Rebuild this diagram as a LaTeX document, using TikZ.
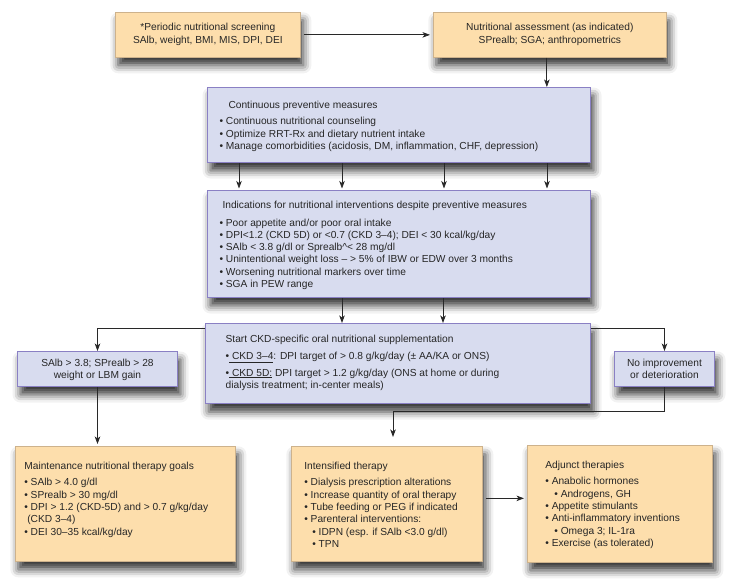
\documentclass[tikz,border=0pt]{standalone}
\usepackage{fontspec}
\setmainfont{Liberation Sans}
\usetikzlibrary{arrows.meta,shadows.blur}
\definecolor{pewpeach}{RGB}{253,222,172}
\definecolor{pewtan}{RGB}{205,178,140}
\definecolor{pewlilac}{RGB}{216,220,239}
\definecolor{pewpurple}{RGB}{138,128,196}
\definecolor{pewline}{RGB}{40,40,40}

% width, height, first baseline, left pad, text
\newcommand{\boxtext}[5]{\parbox[c][#2][t]{#1}{\raggedright\leftskip=#4\relax\rule{0pt}{#3}#5}}
% text with a rule set well below it
\newcommand{\lowline}[2]{\sbox0{#2}\rlap{\rule[-#1]{\wd0}{0.8pt}}\usebox0}

\begin{document}
\begin{tikzpicture}[x=1pt, y=-1pt,
    every node/.style={font=\fontsize{10.2}{12.3}\selectfont, text=black!85},
    peachbox/.style={draw=pewtan, fill=pewpeach, line width=0.7pt, inner sep=0pt, anchor=north west,
        blur shadow={shadow xshift=3pt, shadow yshift=-8pt, shadow blur radius=8pt, shadow opacity=80}},
    lilacbox/.style={peachbox, draw=pewpurple, fill=pewlilac, line width=1pt},
    arr/.style={draw=pewline, line width=0.75pt, -{Stealth[length=7.5pt,width=5.5pt,inset=2pt]}}]
    \useasboundingbox (0,0) rectangle (744,583);

    % Screening
    \node[peachbox] (screen) at (115,12) {\boxtext{185pt}{45pt}{18.5pt}{0pt}{\centering
        *Periodic nutritional screening\\
        SAlb, weight, BMI, MIS, DPI, DEI}};

    % Assessment
    \node[peachbox] (assess) at (433,12) {\boxtext{233pt}{45pt}{18.5pt}{0pt}{\centering
        Nutritional assessment (as indicated)\\
        SPrealb; SGA; anthropometrics}};

    % Preventive measures
    \node[lilacbox] (prevent) at (207,87) {\boxtext{383pt}{75pt}{21.5pt}{12pt}{%
        \hspace*{9pt}Continuous preventive measures\\[3.7pt]
        \textbullet\ Continuous nutritional counseling\\
        \textbullet\ Optimize RRT-Rx and dietary nutrient intake\\
        \textbullet\ Manage comorbidities (acidosis, DM, inflammation, CHF, depression)}};

    % Indications
    \node[lilacbox] (indic) at (207,190) {\boxtext{383pt}{107pt}{17.5pt}{12pt}{%
        \hspace*{3pt}Indications for nutritional interventions despite preventive measures\\[5.7pt]
        \textbullet\ Poor appetite and/or poor oral intake\\
        \textbullet\ DPI<1.2 (CKD 5D) or <0.7 (CKD 3–4); DEI < 30 kcal/kg/day\\
        \textbullet\ SAlb < 3.8 g/dl or Sprealb\textasciicircum< 28 mg/dl\\
        \textbullet\ Unintentional weight loss – > 5\% of IBW or EDW over 3 months\\
        \textbullet\ Worsening nutritional markers over time\\
        \textbullet\ SGA in PEW range}};

    % Supplementation
    \node[lilacbox, line width=1.3pt] (ckd) at (205,323) {\boxtext{385pt}{80pt}{18.5pt}{20pt}{%
        Start CKD-specific oral nutritional supplementation\\[4.7pt]
        \textbullet\lowline{4pt}{\ CKD 3–4}: DPI target of > 0.8 g/kg/day (± AA/KA or ONS)\\[4.7pt]
        \textbullet\lowline{2pt}{\ CKD 5D:} DPI target > 1.2 g/kg/day (ONS at home or during\\
        dialysis treatment; in-center meals)}};

    % Outcomes
    \node[lilacbox] (salb) at (17,351) {\boxtext{160pt}{35pt}{14.5pt}{0pt}{\centering
        SAlb > 3.8; SPrealb > 28\\
        weight or LBM gain}};
    \node[lilacbox] (noimp) at (614,351) {\boxtext{100pt}{35pt}{14.5pt}{0pt}{\centering
        No improvement\\
        or deterioration}};

    % Maintenance
    \node[peachbox] (maint) at (15,446) {\boxtext{220pt}{115pt}{23.5pt}{9pt}{%
        Maintenance nutritional therapy goals\\[3.7pt]
        \textbullet\ SAlb > 4.0 g/dl\\
        \textbullet\ SPrealb > 30 mg/dl\\
        \textbullet\ DPI > 1.2 (CKD-5D) and > 0.7 g/kg/day\\
        \hspace*{3pt}(CKD 3–4)\\
        \textbullet\ DEI 30–35 kcal/kg/day}};

    % Intensified
    \node[peachbox] (intens) at (291,446) {\boxtext{191pt}{115pt}{23.5pt}{13pt}{%
        Intensified therapy\\[3.7pt]
        \textbullet\ Dialysis prescription alterations\\
        \textbullet\ Increase quantity of oral therapy\\
        \textbullet\ Tube feeding or PEG if indicated\\
        \textbullet\ Parenteral interventions:\\
        \hspace*{8pt}\textbullet\ IDPN (esp. if SAlb <3.0 g/dl)\\
        \hspace*{8pt}\textbullet\ TPN}};

    % Adjunct
    \node[peachbox] (adj) at (527,445) {\boxtext{185pt}{117pt}{23.5pt}{18pt}{%
        Adjunct therapies\\[3.7pt]
        \textbullet\ Anabolic hormones\\
        \hspace*{9pt}\textbullet\ Androgens, GH\\
        \textbullet\ Appetite stimulants\\
        \textbullet\ Anti-inflammatory inventions\\
        \hspace*{9pt}\textbullet\ Omega 3; IL-1ra\\
        \textbullet\ Exercise (as tolerated)}};

    % Connectors
    \draw[arr, shorten <=3pt, shorten >=3pt] (screen) -- (assess);
    \coordinate (down) at ([xshift=-3pt]assess.south);
    \draw[arr] (down) -- (down |- prevent.north);
    \foreach \xx in {239,342,444,547}
        \draw[arr, shorten >=1.5pt] (prevent.south -| \xx,0) -- (indic.north -| \xx,0);
    \foreach \xx in {342,443}
        \draw[arr] (indic.south -| \xx,0) -- (ckd.north -| \xx,0);
    \draw[arr] ([yshift=-5pt]ckd.north west) -| (salb.north);
    \draw[arr] ([yshift=-5pt]ckd.north east) -| (noimp.north);
    \coordinate (bend) at (393,411);
    \coordinate (drop) at (393,437);
    \draw[arr] (noimp.south) |- (bend) -- (drop);
    \draw[arr, shorten >=2pt] (salb.south) -- (salb.south |- maint.north);
    \draw[arr, shorten <=3pt, shorten >=3pt] ([yshift=5.5pt]intens.east) -- ([yshift=5.5pt]adj.west);
\end{tikzpicture}
\end{document}
